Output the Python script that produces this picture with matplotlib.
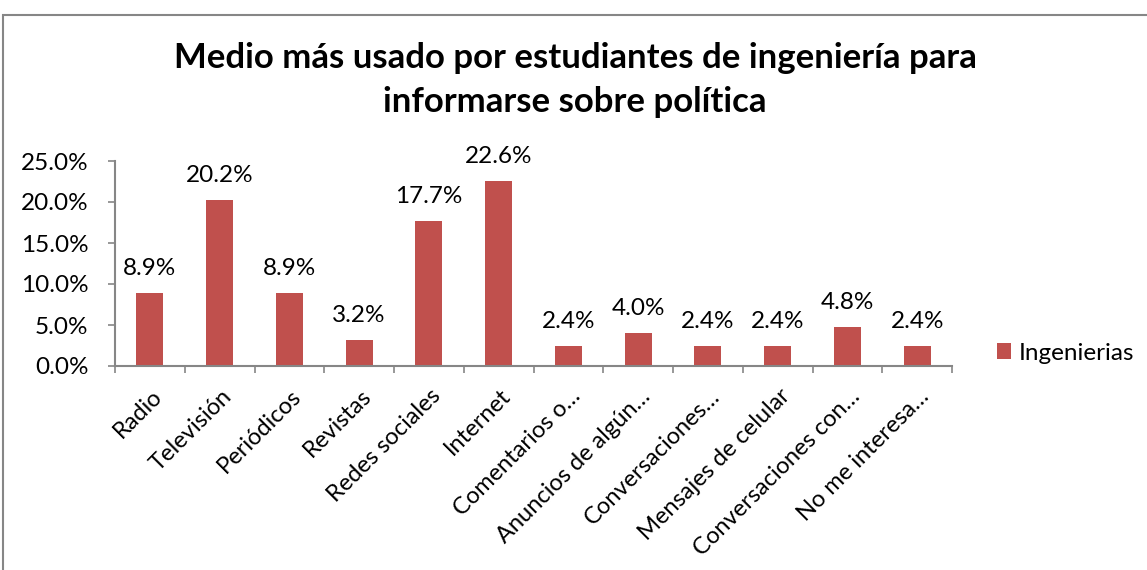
import matplotlib
matplotlib.use("Agg")
import matplotlib.pyplot as plt
from matplotlib.patches import Rectangle
from matplotlib.ticker import FuncFormatter, MultipleLocator

categories = ["Radio", "Televisión", "Periódicos", "Revistas", "Redes sociales",
              "Internet", "Comentarios o…", "Anuncios de algún…", "Conversaciones…",
              "Mensajes de celular", "Conversaciones con…", "No me interesa…"]
values = [8.9, 20.2, 8.9, 3.2, 17.7, 22.6, 2.4, 4.0, 2.4, 2.4, 4.8, 2.4]
series_name = "Ingenierias"
title = "Medio más usado por estudiantes de ingeniería para\ninformarse sobre política"

plt.rcParams['font.family'] = ['Lato', 'DejaVu Sans']

W, H = 1147, 570
FS = 17.5
fig = plt.figure(figsize=(W / 100, H / 100), dpi=100)
fig.patches.append(Rectangle((3 / W, -0.1), 1.2, 1 - 15 / H + 0.1, transform=fig.transFigure,
                             fill=False, edgecolor="#868686", linewidth=1.5))

ax = fig.add_axes([115 / W, 1 - 366 / H, (952 - 115) / W, (366 - 161) / H])
bar_color = "#C0504D"
x = list(range(len(categories)))
bars = ax.bar(x, values, width=0.39, color=bar_color, label=series_name, zorder=2)
for xi, v in zip(x, values):
    ax.annotate(f"{v:.1f}%", (xi, v), xytext=(0, 13), textcoords="offset points",
                ha="center", va="baseline", fontsize=FS)

ax.set_xlim(-0.5, len(categories) - 0.5)
ax.set_ylim(0, 25)
ax.yaxis.set_major_locator(MultipleLocator(5))
ax.yaxis.set_major_formatter(FuncFormatter(lambda v, p: f"{v:.1f}%"))
ax.tick_params(axis="y", labelsize=FS, length=5, color="#868686", width=1.2, pad=14)

ax.set_xticks([i - 0.5 for i in range(len(categories) + 1)], minor=False)
ax.set_xticklabels([])
ax.tick_params(axis="x", length=5, color="#868686", width=1.2)
for xi, c in zip(x, categories):
    ax.annotate(c, (xi, 0), xytext=(1, -14), textcoords="offset points",
                xycoords=("data", "axes fraction"), rotation=45, ha="right", va="top",
                rotation_mode="anchor", fontsize=FS - 0.5)

for s in ["top", "right"]:
    ax.spines[s].set_visible(False)
for s in ["left", "bottom"]:
    ax.spines[s].set_color("#868686")
    ax.spines[s].set_linewidth(1.5)

fig.text(575 / W, 1 - 80 / H, title, ha="center", va="center", fontsize=25,
         fontweight="bold", linespacing=1.5)

leg = fig.legend(handles=[bars], labels=[series_name], loc="center left",
                 bbox_to_anchor=(975 / W, 1 - 353 / H), frameon=False, fontsize=FS,
                 handlelength=0.6, handleheight=0.6, handletextpad=0.3)

fig.savefig("out.png", dpi=100)
